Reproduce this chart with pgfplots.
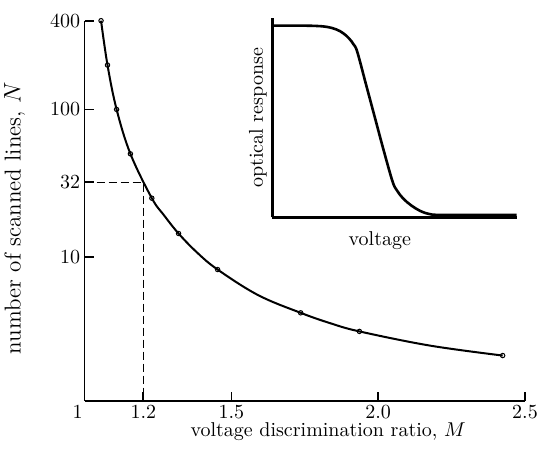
\documentclass[border=0pt]{standalone}
\usepackage{pgfplots}
\pgfplotsset{compat=1.18}

\begin{document}
\begin{tikzpicture}
% main plot: N against M (log y)
\begin{axis}[
  at={(0,0)}, anchor=south west,
  scale only axis, width=220.2pt, height=190pt,
  xmin=1, xmax=2.5, ymode=log, ymin=1.057, ymax=400,
  axis lines=left, axis line style={-, line width=0.9pt},
  tick align=inside, major tick length=4.5pt,
  tick style={line width=0.9pt, black},
  xtick={1,1.2,1.5,2,2.5},
  xticklabels={\makebox[0pt][r]{1\hspace{1pt}},1.2,1.5,2.0,2.5},
  ytick={10,32,100,400}, yticklabels={10,32,100,400},
  yminorticks=false,
  xticklabel style={inner sep=2pt},
  yticklabel style={inner sep=2pt},
  xlabel={voltage discrimination ratio, $M$},
  ylabel={\fontsize{11.5}{13}\selectfont number of scanned lines, $N$},
  xlabel style={at={(axis description cs:0.553,0)}, anchor=base, yshift=-18pt},
  ylabel style={at={(axis description cs:-0.159,0.48)}, anchor=center},
  clip=false,
]
\addplot[black, line width=0.4pt, dash pattern=on 4pt off 2pt]
  coordinates {(1,32)(1.2,32)(1.2,1.057)};
% curve as traced in the figure
\addplot[black, line width=1pt, smooth, tension=0.6]
  coordinates {
  (1.056,400)(1.078,200)(1.109,100)(1.156,50)(1.229,25)(1.27,19.2)
  (1.320,14.4)(1.383,10.7)(1.453,8.2)(1.591,5.5)(1.736,4.17)(1.836,3.55)
  (1.936,3.12)(2.176,2.5)(2.424,2.14)};
% measured points
\addplot[only marks, mark=o, mark size=1.1pt,
  mark options={fill=white, draw=black, line width=0.5pt}]
  coordinates {
  (1.056,400)(1.078,200)(1.109,100)(1.156,50)(1.229,25)
  (1.320,14.4)(1.453,8.2)(1.736,4.17)(1.936,3.12)(2.424,2.14)};
\end{axis}

% inset: optical response against voltage
\begin{axis}[
  at={(93.85pt,91.7pt)}, anchor=south west,
  scale only axis, width=122.2pt, height=99.5pt,
  xmin=0, xmax=1, ymin=0, ymax=1,
  axis lines=left, axis line style={-, line width=1.4pt},
  xtick=\empty, ytick=\empty,
  xlabel={voltage}, ylabel={optical response},
  xlabel style={at={(axis description cs:0.44,0)}, anchor=base, yshift=-14.2pt},
  ylabel style={at={(axis description cs:-0.059,0.5)}, anchor=center},
  clip=false,
]
\addplot[black, line width=1.3pt, smooth, tension=0.6]
  coordinates {
  (0,0.963)(0.1,0.963)(0.17,0.962)(0.222,0.957)(0.262,0.944)(0.29,0.925)
  (0.314,0.899)(0.333,0.868)(0.348,0.83)(0.384,0.665)(0.42,0.5)(0.456,0.335)
  (0.492,0.18)(0.51,0.135)(0.535,0.095)(0.568,0.06)(0.605,0.032)(0.64,0.017)
  (0.68,0.012)(0.8,0.012)(1,0.012)};
\end{axis}

\pgfresetboundingbox
\path[use as bounding box] (-42.3pt,-26.65pt) rectangle (228.2pt,200.35pt);
\end{tikzpicture}
\end{document}
